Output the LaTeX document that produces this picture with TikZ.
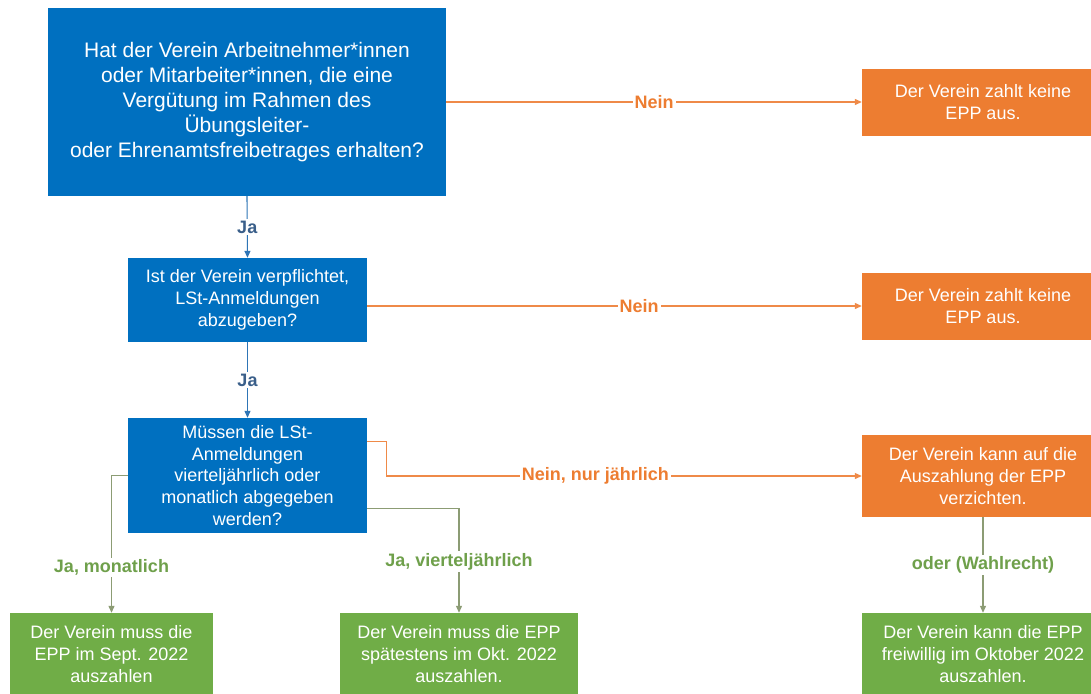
\documentclass[tikz,border=0pt]{standalone}
\usepackage{fontspec}
\setmainfont{Liberation Sans}
\usetikzlibrary{arrows.meta}
\definecolor{cblue}{HTML}{0070C0}
\definecolor{corange}{HTML}{ED7D31}
\definecolor{cgreen}{HTML}{70AD47}
\definecolor{lblue}{HTML}{2E75B6}
\definecolor{tblue}{HTML}{3A5F8A}
\definecolor{lorange}{HTML}{EF8A48}
\definecolor{lgreen}{HTML}{8C9C74}
\definecolor{tgreen}{HTML}{6FA04B}
\begin{document}
\begin{tikzpicture}[x=1pt,y=-1pt,
  box/.style={draw=none, inner sep=0pt, align=center, text=white,
    font=\fontsize{18}{21.7}\selectfont},
  qbox/.style={box, fill=cblue},
  obox/.style={box, fill=corange},
  gbox/.style={box, fill=cgreen},
  conn/.style={line width=1.1pt, -{Triangle[length=7pt,width=6pt]}},
  lbl/.style={fill=white, inner sep=2pt, font=\fontsize{18}{21}\selectfont\bfseries}]
\clip (0,0) rectangle (1091,693);
\fill[white] (0,0) rectangle (1091,693);

% nodes
\node[qbox, minimum width=398pt, minimum height=188pt, font=\fontsize{21}{25}\selectfont] (q1) at (247,102)
  {Hat der Verein Arbeitnehmer*innen\\oder Mitarbeiter*innen, die eine\\Vergütung im Rahmen des\\Übungsleiter-\\oder Ehrenamtsfreibetrages erhalten?};
\node[qbox, minimum width=239pt, minimum height=84pt] (q2) at (247.5,300)
  {Ist der Verein verpflichtet,\\LSt-Anmeldungen\\abzugeben?};
\node[qbox, minimum width=239pt, minimum height=115pt] (q3) at (247.5,475.5)
  {Müssen die LSt-\\Anmeldungen\\vierteljährlich oder\\monatlich abgegeben\\werden?};

\node[obox, minimum width=242pt, minimum height=67pt] (o1) at (983,102)
  {Der Verein zahlt keine\\EPP aus.};
\node[obox, minimum width=242pt, minimum height=67pt] (o2) at (983,306)
  {Der Verein zahlt keine\\EPP aus.};
\node[obox, minimum width=242pt, minimum height=82pt] (o3) at (983,476)
  {Der Verein kann auf die\\Auszahlung der EPP\\verzichten.};

\node[gbox, minimum width=203pt, minimum height=82pt] (g1) at (111.5,654)
  {Der Verein muss die\\EPP im Sept. 2022\\auszahlen};
\node[gbox, minimum width=238pt, minimum height=82pt] (g2) at (459,654)
  {Der Verein muss die EPP\\spätestens im Okt. 2022\\auszahlen.};
\node[gbox, minimum width=242pt, minimum height=82pt] (g3) at (983,654)
  {Der Verein kann die EPP\\freiwillig im Oktober 2022\\auszahlen.};

% connectors
\draw[conn, lorange] (q1.east) -- node[lbl, text=corange] {Nein} (q1.east -| o1.west);
\draw[conn, lblue] (q1.south) -- node[lbl, text=tblue] {Ja} (q2.north);
\draw[conn, lorange] (q2.east |- o2.west) -- node[lbl, text=corange, pos=0.55] {Nein} (o2.west);
\draw[conn, lblue] (q2.south) -- node[lbl, text=tblue] {Ja} (q3.north);
\draw[conn, lorange] ([yshift=34pt]q3.east) -- ++(19,0) |- node[lbl, text=corange, pos=0.72] {Nein, nur jährlich} (o3.west);
\draw[conn, lgreen] (q3.west) -| node[lbl, text=tgreen, pos=0.835] {Ja, monatlich} (g1.north);
\draw[conn, lgreen] ([yshift=-33pt]q3.east) -| node[lbl, text=tgreen, pos=0.755] {Ja, vierteljährlich} (g2.north);
\draw[conn, lgreen] (o3.south) -- node[lbl, text=tgreen] {oder (Wahlrecht)} (g3.north);
\end{tikzpicture}
\end{document}
